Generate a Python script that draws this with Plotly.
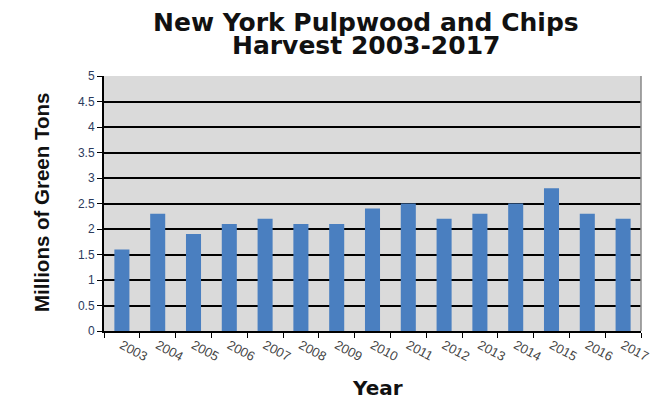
import plotly.graph_objects as go

years = ["2003", "2004", "2005", "2006", "2007", "2008", "2009", "2010",
         "2011", "2012", "2013", "2014", "2015", "2016", "2017"]
harvest = [1.6, 2.3, 1.9, 2.1, 2.2, 2.1, 2.1, 2.4, 2.5, 2.2, 2.3, 2.5, 2.8, 2.3, 2.2]
y_ticks = [0, 0.5, 1, 1.5, 2, 2.5, 3, 3.5, 4, 4.5, 5]
title_lines = ["New York Pulpwood and Chips", "Harvest 2003-2017"]

fig = go.Figure(go.Bar(x=years, y=harvest, marker=dict(color="#4a7fc0", line=dict(width=0)),
                       width=0.42))

fig.update_layout(
    width=653, height=400,
    margin=dict(l=104, r=12, t=76, b=69, autoexpand=False),
    paper_bgcolor="white",
    plot_bgcolor="#dadada",
    showlegend=False,
    font=dict(family="Liberation Sans, Arial"),
)
fig.update_xaxes(
    type="category", tickangle=28, tickson="boundaries",
    ticks="outside", ticklen=5, tickcolor="black",
    showline=True, linecolor="black", linewidth=2, mirror=False,
    tickfont=dict(size=13, color="#444444", family="Liberation Sans, Arial"),
    automargin=False,
)
fig.update_yaxes(
    range=[0, 5], tickvals=y_ticks, ticktext=[f"{v:g}" for v in y_ticks],
    ticks="outside", ticklen=5, tickcolor="black",
    showgrid=True, gridcolor="black", gridwidth=1.5,
    showline=True, linecolor="black", linewidth=2,
    zeroline=False, automargin=False,
    tickfont=dict(size=12, color="#2b3a5c", family="Liberation Sans, Arial"),
)
fig.add_shape(type="line", xref="paper", yref="paper", x0=1, x1=1, y0=0, y1=1,
              line=dict(color="#888888", width=1.5))

title_font = dict(family="DejaVu Sans, Liberation Sans", size=25, color="#111111")
fig.add_annotation(text="<b>%s</b>" % title_lines[0], xref="paper", yref="paper",
                   x=(366 - 104) / 537, y=(331 - 22) / 255, xanchor="center", yanchor="middle",
                   showarrow=False, font=title_font)
fig.add_annotation(text="<b>%s</b>" % title_lines[1], xref="paper", yref="paper",
                   x=(366 - 104) / 537, y=(331 - 45) / 255, xanchor="center", yanchor="middle",
                   showarrow=False, font=title_font)
fig.add_annotation(text="<b>Year</b>", xref="paper", yref="paper",
                   x=(377 - 104) / 537, y=(331 - 388) / 255, xanchor="center", yanchor="middle",
                   showarrow=False, font=dict(family="DejaVu Sans, Liberation Sans", size=20, color="#111111"))
fig.add_annotation(text="<b>Millions of Green Tons</b>", xref="paper", yref="paper",
                   x=(41 - 104) / 537, y=(331 - 203) / 255, xanchor="center", yanchor="middle",
                   textangle=-90, showarrow=False,
                   font=dict(family="Liberation Sans Narrow, Arial Narrow, Liberation Sans", size=20.5, color="#111111"))

fig.write_html("out.html", config={"displayModeBar": False},
               post_script="document.body.style.margin='0';document.body.style.padding='0';")
